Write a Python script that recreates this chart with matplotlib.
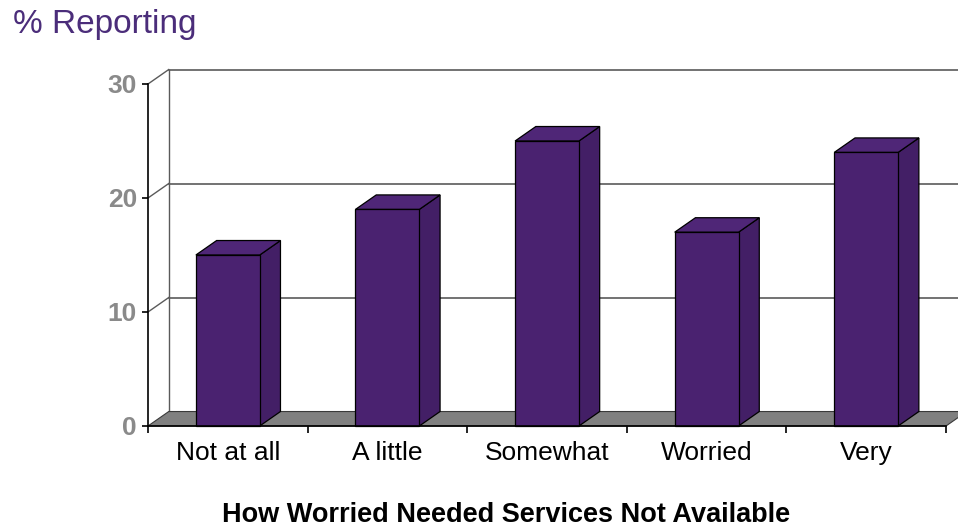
import matplotlib
matplotlib.use("Agg")
import matplotlib.pyplot as plt
from matplotlib.patches import Polygon

# Data
categories = ["Not at all", "A little", "Somewhat", "Worried", "Very"]
percent_reporting = [15, 19, 25, 17, 24]
y_ticks = [0, 10, 20, 30]

# Styling
BAR_FRONT = "#4a2270"
BAR_SIDE = "#431f66"
BAR_TOP = "#4f2677"
FLOOR = "#808080"
GRID = "#5a5a5a"
TITLE_PURPLE = "#4b2d7a"
TICK_GRAY = "#8a8a8a"
FONT = ["Liberation Sans", "DejaVu Sans"]

# Faux-3D depth, in data units (categories, percent)
DX = 0.13
DY = 1.27
BAR_W = 0.4

fig = plt.figure(figsize=(9.58, 5.29), dpi=100)
ax = fig.add_axes([0.15449, 0.19471, 0.83299, 0.64650])
n = len(categories)
ax.set_xlim(0, n)
ax.set_ylim(0, 30)

# Back wall: gridlines, left edge and the connecting diagonals on the side wall
for v in y_ticks[1:]:
    ax.plot([DX, n + DX], [v + DY, v + DY], color=GRID, lw=1.2, clip_on=False, zorder=1)
    ax.plot([0, DX], [v, v + DY], color=GRID, lw=1.0, clip_on=False, zorder=1)
ax.plot([DX, DX], [DY, 30 + DY], color=GRID, lw=1.0, clip_on=False, zorder=1)

# Floor
floor = Polygon([(0, 0), (n, 0), (n + DX, DY), (DX, DY)], closed=True,
                facecolor=FLOOR, edgecolor="#3a3a3a", lw=0.8, clip_on=False, zorder=2)
ax.add_patch(floor)

# Bars
for i, v in enumerate(percent_reporting):
    x0 = i + (1 - BAR_W) / 2
    x1 = x0 + BAR_W
    side = Polygon([(x1, 0), (x1 + DX, DY), (x1 + DX, v + DY), (x1, v)], closed=True,
                   facecolor=BAR_SIDE, edgecolor="black", lw=0.9, clip_on=False, zorder=3)
    top = Polygon([(x0, v), (x1, v), (x1 + DX, v + DY), (x0 + DX, v + DY)], closed=True,
                  facecolor=BAR_TOP, edgecolor="black", lw=0.9, clip_on=False, zorder=3)
    front = Polygon([(x0, 0), (x1, 0), (x1, v), (x0, v)], closed=True,
                    facecolor=BAR_FRONT, edgecolor="black", lw=0.9, clip_on=False, zorder=4)
    for p in (side, top, front):
        ax.add_patch(p)

# Axes frame and ticks
ax.patch.set_visible(False)
for s in ("top", "right"):
    ax.spines[s].set_visible(False)
for s in ("left", "bottom"):
    ax.spines[s].set_color("black")
    ax.spines[s].set_linewidth(1.2)
    ax.spines[s].set_zorder(5)

ax.set_yticks(y_ticks)
ax.set_yticklabels([str(t) for t in y_ticks], fontsize=19, fontweight="bold",
                   color=TICK_GRAY, family=FONT)
ax.tick_params(axis="y", direction="out", length=4, width=1.2, color="black", pad=4)

ax.set_xticks(range(n + 1))
ax.set_xticklabels([])
ax.tick_params(axis="x", which="major", direction="out", length=5, width=1.2, color="black")
ax.set_xticks([i + 0.5 for i in range(n)], minor=True)
ax.set_xticklabels(categories, minor=True, fontsize=19, color="black", family=FONT)
ax.tick_params(axis="x", which="minor", length=0, pad=11)

# Titles
fig.text(13 / 958, 1 - 33 / 529, "% Reporting", fontsize=24, color=TITLE_PURPLE,
         family=FONT, ha="left", va="baseline")
fig.text(506 / 958, 1 - 522 / 529, "How Worried Needed Services Not Available",
         fontsize=19.5, fontweight="bold", color="black", family=FONT,
         ha="center", va="baseline")

fig.savefig("out.png", dpi=100)
